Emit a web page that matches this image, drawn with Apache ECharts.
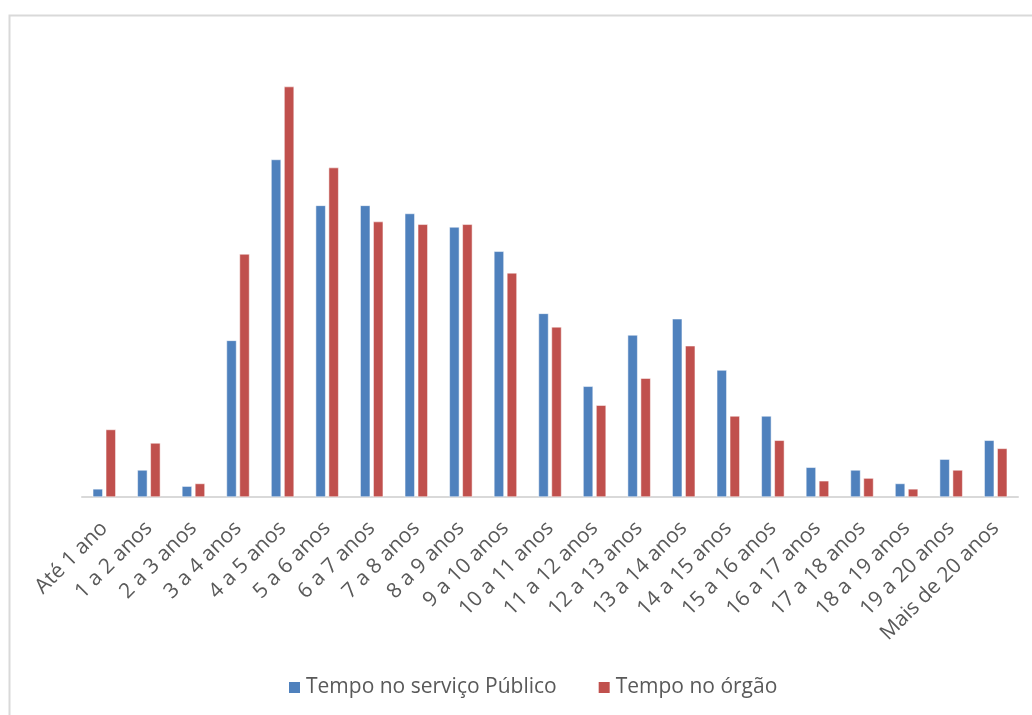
<!DOCTYPE html>
<html>
<head>
<meta charset="utf-8">
<script src="https://cdn.jsdelivr.net/npm/echarts@6/dist/echarts.min.js"></script>
<style>
html,body{margin:0;padding:0;background:#fff;}
#chart{width:1032px;height:715px;}
</style>
</head>
<body>
<div id="chart"></div>
<script>
const categories = ['Até 1 ano','1 a 2 anos','2 a 3 anos','3 a 4 anos','4 a 5 anos','5 a 6 anos','6 a 7 anos','7 a 8 anos','8 a 9 anos','9 a 10 anos','10 a 11 anos','11 a 12 anos','12 a 13 anos','13 a 14 anos','14 a 15 anos','15 a 16 anos','16 a 17 anos','17 a 18 anos','18 a 19 anos','19 a 20 anos','Mais de 20 anos'];
const servicoPublico = [3,10,4,58,125,108,108,105,100,91,68,41,60,66,47,30,11,10,5,14,21];
const orgao = [25,20,5,90,152,122,102,101,101,83,63,34,44,56,30,21,6,7,3,10,18];
const seriesNames = ['Tempo no serviço Público','Tempo no órgão'];

const chart = echarts.init(document.getElementById('chart'), null, {renderer:'canvas'});
const font = 'Open Sans';
chart.setOption({
  animation:false,
  color:['#4f81bd','#c0504d'],
  graphic:[{
    type:'rect', shape:{x:9.5,y:15.5,width:1040,height:720},
    style:{fill:'none',stroke:'#d9d9d9',lineWidth:2}, silent:true
  }],
  legend:{
    data:seriesNames, left:282, top:672, itemWidth:13, itemHeight:13, itemGap:40,
    icon:'rect',
    textStyle:{fontFamily:font,fontSize:21,color:'#595959'}
  },
  grid:{left:82,right:14,top:65,bottom:218,containLabel:false},
  xAxis:{
    type:'category', data:categories,
    axisLine:{lineStyle:{color:'#d9d9d9',width:2}},
    axisTick:{show:false},
    axisLabel:{rotate:45,interval:0,fontFamily:font,fontSize:21,color:'#595959',margin:28}
  },
  yAxis:{type:'value',min:0,max:160,show:false,splitLine:{show:false}},
  series:[
    {name:seriesNames[0],type:'bar',data:servicoPublico,barWidth:10,barGap:'30%',itemStyle:{borderColor:'#fff',borderWidth:0.5}},
    {name:seriesNames[1],type:'bar',data:orgao,barWidth:10,barGap:'30%',itemStyle:{borderColor:'#fff',borderWidth:0.5}}
  ]
});
</script>
</body>
</html>
